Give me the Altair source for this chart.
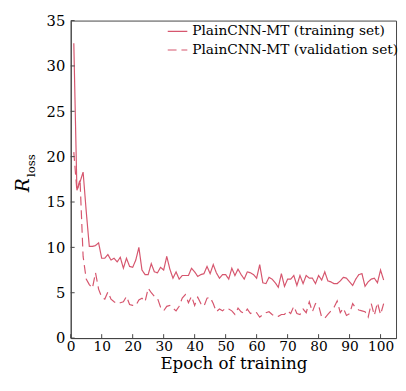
import altair as alt
import pandas as pd

epochs = list(range(1, 102))
train_loss = [32.5, 16.3, 17.2, 18.3, 14.0, 10.1, 10.1, 10.2, 10.5, 8.8,
              8.8, 9.2, 8.6, 8.8, 8.4, 8.9, 7.7, 8.8, 7.9, 7.8,
              8.6, 10.0, 7.5, 7.0, 7.0, 8.2, 7.3, 7.2, 7.8, 7.5,
              9.0, 7.6, 6.6, 7.3, 6.5, 6.9, 6.9, 6.9, 7.7, 7.3,
              6.8, 7.0, 7.1, 7.9, 7.1, 8.1, 7.2, 6.6, 7.0, 7.0,
              6.5, 7.7, 6.9, 7.6, 7.0, 6.5, 7.3, 7.2, 7.0, 6.6,
              8.1, 6.1, 6.0, 6.7, 6.5, 6.1, 5.6, 7.1, 5.7, 6.5,
              6.5, 6.9, 5.8, 6.9, 6.0, 6.9, 6.6, 6.6, 6.0, 6.9,
              6.4, 7.3, 6.3, 6.2, 6.0, 6.0, 6.3, 6.7, 6.6, 6.2,
              5.8, 6.5, 7.0, 7.1, 5.7, 6.2, 6.5, 6.6, 6.1, 7.5,
              6.4]
val_loss = [20.5, 16.2, 17.5, 9.0, 6.5, 5.9, 5.5, 7.2, 5.4, 4.5,
            4.3, 5.1, 4.3, 4.0, 3.8, 3.9, 4.0, 4.6, 3.7, 3.6,
            3.6, 4.2, 4.4, 4.0, 5.5, 5.0, 4.6, 4.4, 3.4, 3.0,
            3.5, 3.6, 3.3, 3.0, 3.5, 4.4, 4.8, 3.9, 4.6, 3.6,
            4.5, 3.8, 3.5, 4.4, 4.5, 3.8, 2.9, 3.2, 3.0, 3.3,
            3.2, 3.0, 2.6, 3.3, 2.9, 2.7, 3.2, 2.7, 2.9, 2.8,
            2.3, 2.6, 2.8, 2.9, 2.6, 2.4, 2.4, 2.6, 2.6, 3.0,
            2.7, 3.5, 2.7, 2.6, 3.2, 2.8, 4.0, 2.9, 3.8, 3.6,
            2.3, 2.2, 2.6, 3.0, 3.4, 4.1, 2.8, 3.3, 2.5, 2.7,
            3.8, 3.3, 3.1, 3.0, 2.9, 2.3, 3.8, 2.5, 3.9, 2.6,
            3.8]
series_names = ["PlainCNN-MT (training set)", "PlainCNN-MT (validation set)"]
x_ticks = [0, 10, 20, 30, 40, 50, 60, 70, 80, 90, 100]
y_ticks = [0, 5, 10, 15, 20, 25, 30, 35]

LINE = "#d6566e"
FONT = "DejaVu Serif"
W, H = 332, 324

df = pd.concat([
    pd.DataFrame({"epoch": epochs, "loss": train_loss, "series": series_names[0]}),
    pd.DataFrame({"epoch": epochs, "loss": val_loss, "series": series_names[1]}),
])

xs = alt.Scale(domain=[0, 105], nice=False)
ys = alt.Scale(domain=[0, 35], nice=False)

x_axis = alt.Axis(values=x_ticks, title="Epoch of training", tickSize=0,
                  labelPadding=2, labelFont=FONT, labelFontSize=14, labelOverlap=False,
                  labelFlush=False, labelColor="black",
                  titleFont=FONT, titleFontSize=17, titleFontWeight="normal",
                  titleColor="black", titlePadding=2, grid=False, domainColor="#444")
y_axis = alt.Axis(values=y_ticks, title=None, tickSize=0, labelPadding=6,
                  labelFont=FONT, labelFontSize=15, labelOverlap=False,
                  labelFlush=False, labelColor="black", grid=False, domainColor="#444")

lines = alt.Chart(df).mark_line(strokeWidth=1.2, clip=True).encode(
    x=alt.X("epoch:Q", scale=xs, axis=x_axis),
    y=alt.Y("loss:Q", scale=ys, axis=y_axis),
    color=alt.Color("series:N", scale=alt.Scale(domain=series_names, range=[LINE, LINE]),
                    legend=alt.Legend(title=None, orient="none", legendX=98, legendY=0,
                                      symbolType="stroke", symbolSize=400,
                                      symbolStrokeWidth=1.2, labelFont=FONT,
                                      labelFontSize=14, labelColor="black",
                                      labelLimit=400, rowPadding=1, labelOffset=4)),
    strokeDash=alt.StrokeDash("series:N",
                              scale=alt.Scale(domain=series_names, range=[[1, 0], [9, 5]]),
                              legend=None),
    detail="series:N",
)

xt = alt.Chart(pd.DataFrame({"t": x_ticks})).mark_rule(color="#444").encode(
    x=alt.X("t:Q", scale=xs, axis=x_axis), y=alt.value(H), y2=alt.value(H - 4))
yt = alt.Chart(pd.DataFrame({"t": y_ticks})).mark_rule(color="#444").encode(
    y=alt.Y("t:Q", scale=ys, axis=y_axis), x=alt.value(0), x2=alt.value(4))

base_txt = alt.Chart(pd.DataFrame({"a": [0]}))
r_txt = base_txt.mark_text(text="R", font=FONT, fontSize=19, fontStyle="italic",
                           angle=270, align="center", baseline="middle").encode(
    x=alt.value(-49), y=alt.value(168))
sub_txt = base_txt.mark_text(text="loss", font=FONT, fontSize=12,
                             angle=270, align="center", baseline="middle").encode(
    x=alt.value(-40), y=alt.value(148))

chart = alt.layer(lines, xt, yt, r_txt, sub_txt).properties(
    width=W, height=H,
    background="white",
    autosize=alt.AutoSizeParams(type="none"),
    padding={"left": 64, "top": 9, "right": 2, "bottom": 42},
).configure_view(stroke="#444", strokeWidth=1)

chart.save("out.html", embed_options={"renderer": "svg", "actions": False})
